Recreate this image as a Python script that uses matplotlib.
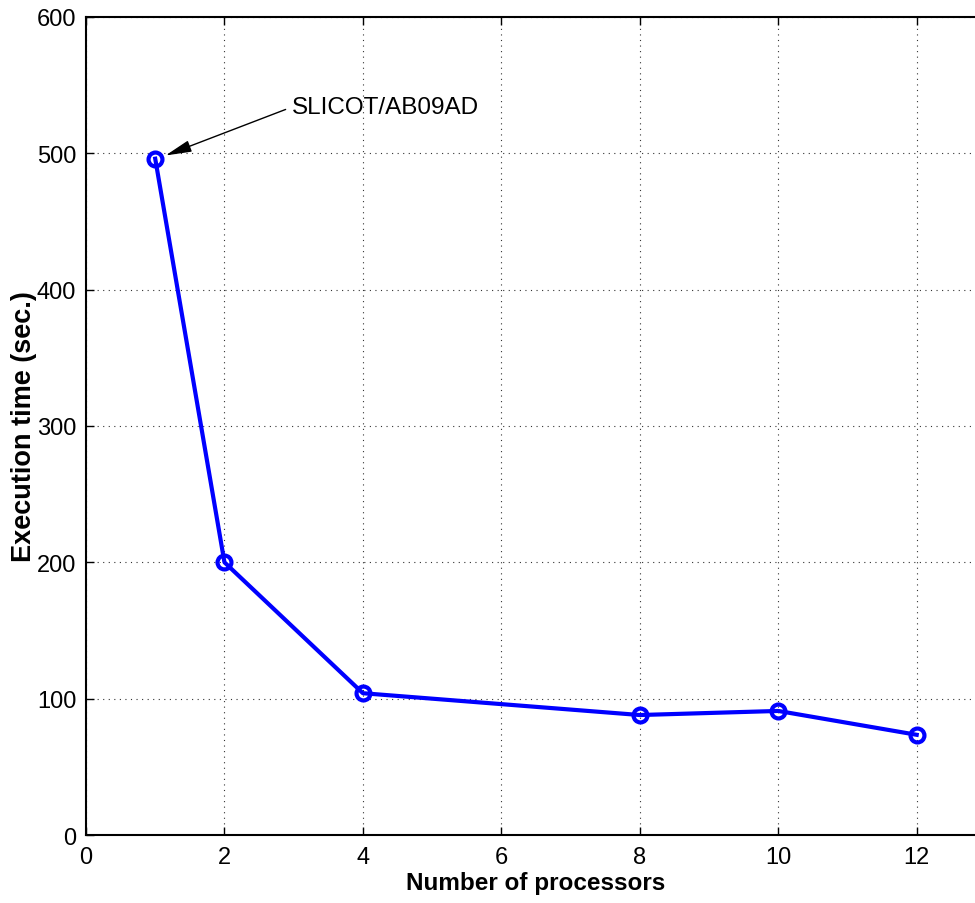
import matplotlib.pyplot as plt

plt.rcParams['font.family'] = ['Liberation Sans', 'DejaVu Sans']

procs = [1, 2, 4, 8, 10, 12]
times = [496, 200, 104, 88, 91, 73.5]
xticks = [0, 2, 4, 6, 8, 10, 12]
yticks = [0, 100, 200, 300, 400, 500, 600]

fig = plt.figure(figsize=(9.75, 9.04), dpi=100)
ax = fig.add_axes([0.0882, 0.0752, 0.923, 0.905])

ax.plot(procs, times, color='#0000ff', linewidth=3, marker='o',
        markersize=10, markerfacecolor='none', markeredgewidth=3)

ax.set_xlim(0, 13)
ax.set_ylim(0, 600)
ax.set_xticks(xticks)
ax.set_yticks(yticks)
ax.tick_params(direction='in', length=6, width=1, labelsize=17,
               top=True, right=True)
ax.tick_params(axis='x', pad=8)
ax.tick_params(axis='y', pad=7)
ax.grid(True, linestyle=(0, (1, 4)), color='#333333', linewidth=0.8)
for s in ax.spines.values():
    s.set_linewidth(1.5)

ax.set_xlabel('Number of processors', fontsize=17.5, fontweight='bold')
ax.xaxis.set_label_coords(0.5, -0.044)
ax.set_ylabel('Execution time (sec.)', fontsize=19.5, fontweight='bold')
ax.yaxis.set_label_coords(-0.054, 0.5)

ax.annotate('SLICOT/AB09AD', xy=(1.13, 498), xytext=(2.98, 534),
            fontsize=17.5, va='center', ha='left',
            arrowprops=dict(arrowstyle='-|>,head_length=0.8,head_width=0.18',
                            color='black', lw=1, relpos=(0, 0.5),
                            mutation_scale=20, shrinkA=3, shrinkB=1))

fig.savefig('out.png', dpi=100)
